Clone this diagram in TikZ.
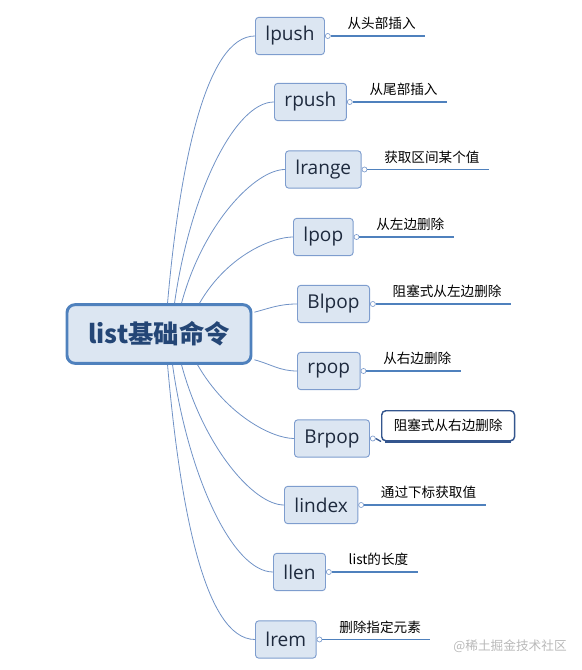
\documentclass[tikz,border=0pt]{standalone}
\usepackage{xcolor}
\usepackage{fontspec}
\setmainfont{Noto Sans CJK SC}
\newfontfamily\cmdfont{Open Sans}
\usetikzlibrary{positioning, calc}
\definecolor{rootblue}{RGB}{79, 129, 189}
\definecolor{boxfill}{RGB}{220, 230, 242}
\definecolor{boxline}{RGB}{126, 157, 206}
\definecolor{branchline}{RGB}{112, 146, 198}
\definecolor{roottext}{RGB}{36, 70, 118}
\definecolor{darktext}{RGB}{30, 42, 62}
\definecolor{selline}{RGB}{52, 86, 142}

\tikzset{
  rootbox/.style={fill=boxfill, draw=rootblue, line width=2.2pt, rounded corners=6pt,
                  minimum width=138pt, minimum height=44pt, text=roottext,
                  font=\bfseries\fontsize{19}{22}\selectfont},
  cmdbox/.style={anchor=west, fill=boxfill, draw=boxline, line width=0.7pt, rounded corners=2.5pt,
                 minimum height=28pt, inner xsep=7.5pt, text=darktext,
                 font=\cmdfont\fontsize{14.3}{16}\selectfont},
  hookdot/.style={circle, draw=boxline, fill=white, line width=0.5pt, inner sep=0pt, minimum size=3.8pt},
  note/.style={inner xsep=7pt, inner ysep=0pt, minimum height=18pt, text=black,
               font=\fontsize{10.2}{12}\selectfont},
  selnote/.style={draw=selline, fill=white, line width=1.1pt, rounded corners=3pt,
                  minimum height=22.5pt, inner xsep=9pt},
  noteline/.style={draw=rootblue, line width=1.3pt},
  branch/.style={draw=branchline, line width=0.6pt},
  sidebranch/.style={branch, in=180, out looseness=1.25, in looseness=0.45}
}

\begin{document}
\begin{tikzpicture}[x=0.75pt, y=0.75pt]
  \useasboundingbox (0,0) rectangle (581,670);

  % centre topic
  \node[rootbox] (root) at (159,336) {list基础命令};

  % commands
  \node[cmdbox] (lpush)  at (255,634)   {lpush};
  \node[cmdbox] (rpush)  at (274,568)   {rpush};
  \node[cmdbox] (lrange) at (285,500.5) {lrange};
  \node[cmdbox] (lpop)   at (293,433)   {lpop};
  \node[cmdbox] (blpop)  at (297,366)   {Blpop};
  \node[cmdbox] (rpop)   at (297,299)   {rpop};
  \node[cmdbox] (brpop)  at (294,231.5) {Brpop};
  \node[cmdbox] (lindex) at (284,165)   {lindex};
  \node[cmdbox] (llen)   at (273,98)    {llen};
  \node[cmdbox] (lrem)   at (255,30.5)  {lrem};

  % branches
  \foreach \n/\dx/\a in {lpush/102/85, rpush/109/82, lrange/116/75, lpop/134/60}
    \draw[sidebranch] ($(root.north west)+(\dx,0)$) to[out=\a] (\n.west);
  \foreach \n/\dx/\a in {lrem/102/-85, llen/107/-82, lindex/116/-75, brpop/132/-60}
    \draw[sidebranch] ($(root.south west)+(\dx,0)$) to[out=\a] (\n.west);
  \draw[branch] ($(root.north east)+(2,-9)$) to[out=15, in=180] (blpop.west);
  \draw[branch] ($(root.south east)+(2,5)$) to[out=-15, in=180] (rpop.west);

  % notes
  \foreach \n/\t in {lpush/从头部插入, rpush/从尾部插入, lrange/获取区间某个值, lpop/从左边删除,
                     blpop/阻塞式从左边删除, rpop/从右边删除, lindex/通过下标获取值,
                     llen/list的长度, lrem/删除指定元素}{
    \node[hookdot, right=0pt of \n] (\n-dot) {};
    \node[note, above right=0pt and 5.5pt of \n-dot.east] (\n-note) {\t};
    \draw[noteline] (\n-dot.east) -- (\n-note.south east);
  }

  % selected note
  \node[hookdot, right=0pt of brpop] (brpop-dot) {};
  \node[note, selnote, above right=-2.25pt and 4pt of brpop-dot.east] (brpop-note) {阻塞式从右边删除};
  \draw[selline, line width=1pt] (brpop-dot.east) -- (brpop-note.south west);
  \draw[selline, line width=1.8pt] ([xshift=3pt]brpop-note.south west) -- ([xshift=-3pt]brpop-note.south east);

  \node[text=gray!55, font=\fontsize{9.5}{11}\selectfont] (mark) at (510,24) {@稀土掘金技术社区};
\end{tikzpicture}
\end{document}
